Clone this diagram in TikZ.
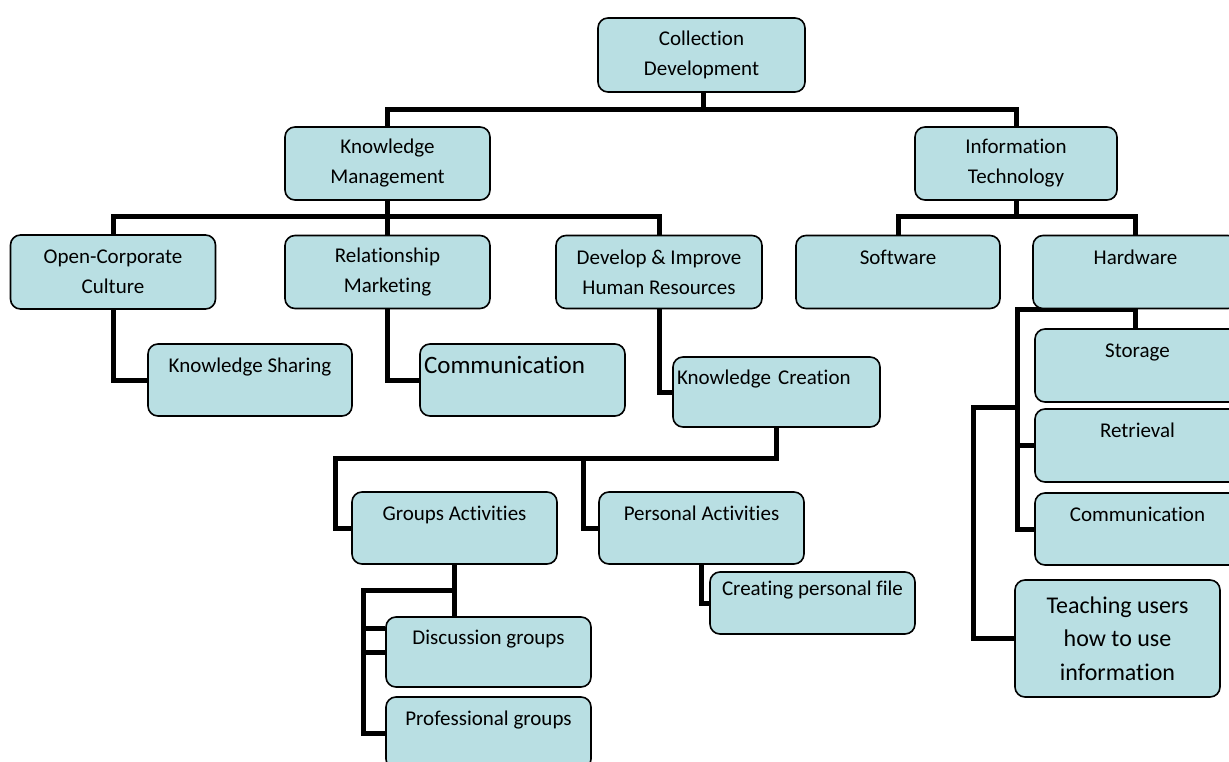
\documentclass[tikz,border=0pt]{standalone}
\usepackage{fontspec}
\setmainfont{Carlito}[Ligatures={NoCommon}]
\usetikzlibrary{backgrounds}
\definecolor{boxblue}{RGB}{185,223,227}
\tikzset{
  box/.style={draw=black, line width=1.6pt, fill=boxblue, rounded corners=10pt,
    inner sep=0pt, minimum width=205pt, minimum height=73pt, align=center,
    font=\fontsize{21}{30}\selectfont},
  leftbox/.style={box, text width=197pt, align=left, inner xsep=4pt},
  conn/.style={draw=black, line width=5pt},
}
\begin{document}
\begin{tikzpicture}[x=1pt,y=-1pt]
\useasboundingbox (0,0) rectangle (1229,762);
\clip (0,0) rectangle (1229,762);
\coordinate (j1) at (703,110);
\coordinate (g1) at (335,458);
\coordinate (g2) at (583,458);
\coordinate (g3) at (363,590);
\coordinate (h1) at (1017,309);
\coordinate (h2) at (973,407);
% boxes
\node[box, minimum width=207pt, minimum height=74pt] (cd) at (701.5,55) {Collection\\Development};
\node[box] (km) at (387.5,163.5) {Knowledge\\Management};
\node[box, minimum width=202pt] (it) at (1016,163.5) {Information\\Technology};
\node[box, minimum height=74pt] (oc) at (113,272) {Open-Corporate\\Culture};
\node[box] (rm) at (387.5,272) {Relationship\\Marketing};
\node[box, minimum width=206pt] (dh) at (659,272) {Develop \& Improve\\Human Resources};
\node[box, minimum width=204pt] (sw) at (898,272) {Software\\\mbox{}};
\node[box] (hw) at (1135.5,272) {Hardware\\\mbox{}};
\node[box, minimum width=204pt, minimum height=72pt] (ks) at (250,380) {Knowledge Sharing\\\mbox{}};
\node[leftbox, minimum height=72pt, font=\fontsize{25}{30}\selectfont] (cm) at (522.5,380) {Communication\\\mbox{}};
\node[leftbox, text width=199pt, minimum height=70pt] (kc) at (776.5,392) {Knowledge Creation\\\mbox{}};
\node[box, minimum height=72pt] (ga) at (454.5,528) {Groups Activities\\\mbox{}};
\node[box, minimum height=72pt] (pa) at (701.5,528) {Personal Activities\\\mbox{}};
\node[box, minimum height=70pt] (dg) at (488.5,652) {Discussion groups\\\mbox{}};
\node[box, minimum height=72pt] (pg) at (488.5,733) {Professional groups\\\mbox{}};
\node[box, minimum height=62pt] (cp) at (812.5,603) {Creating personal file\\\mbox{}};
\node[box] (st) at (1137.5,365.5) {Storage\\\mbox{}};
\node[box] (rt) at (1137.5,445.5) {Retrieval\\\mbox{}};
\node[box, minimum height=72pt] (co) at (1137.5,529) {Communication\\\mbox{}};
\node[box, minimum height=117pt, font=\fontsize{24}{33.5}\selectfont] (tu) at (1117.5,638.5) {Teaching users\\how to use\\information};
% connectors
\begin{pgfonlayer}{background}
\draw[conn] (cd.south -| j1) -- (j1);
\draw[conn] (km.north) |- (j1) -| (it.north);
\draw[conn] (km.south) -- (rm.north);
\draw[conn] (oc.north) -- ++(0,-18) -| (dh.north);
\draw[conn] (it.south) -- ++(0,18);
\draw[conn] (sw.north) -- ++(0,-18) -| (hw.north);
\draw[conn] (oc.south) |- (ks.west);
\draw[conn] (rm.south) |- (cm.west);
\draw[conn] (dh.south) |- (kc.west);
\draw[conn] (kc.south) |- (g1) |- (ga.west);
\draw[conn] (g2) |- (pa.west);
\draw[conn] (ga.south) -- (ga.south |- dg.north);
\draw[conn] (ga.south |- g3) -- (g3) |- (pg.west);
\draw[conn] (g3 |- dg.west) -- (dg.west);
\coordinate (dgu) at ([yshift=24pt]dg.west);
\draw[conn] (dgu -| g3) -- (dgu);
\draw[conn] (pa.south) |- (cp.west);
\draw[conn] (hw.south) -- (hw.south |- st.north);
\draw[conn] (hw.south |- h1) -- (h1) |- (co.west);
\draw[conn] (h1 |- rt.west) -- (rt.west);
\draw[conn] (h1 |- h2) -- (h2) |- (tu.west);
\end{pgfonlayer}
\end{tikzpicture}
\end{document}
